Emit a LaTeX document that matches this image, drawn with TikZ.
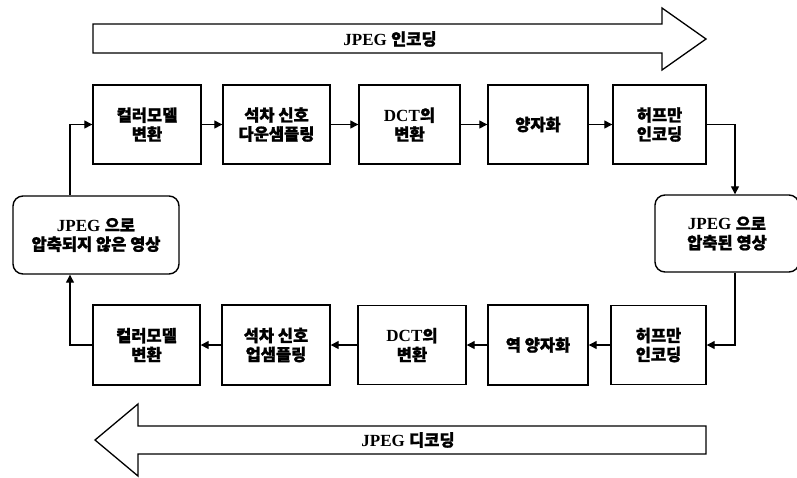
\documentclass[tikz,border=0pt]{standalone}
\usepackage{fontspec}
\setmainfont{Liberation Serif}
\newfontfamily\kr[FakeBold=1.2]{Noto Sans CJK KR}
\usetikzlibrary{arrows.meta}
\newcommand{\K}[1]{{\kr\bfseries\fontsize{16.5}{19}\selectfont #1}}
\tikzset{
  box/.style={draw, line width=1.4pt, minimum height=79pt, align=center, inner sep=0pt, font=\fontsize{17}{19}\selectfont\bfseries},
  rbox/.style={box, rounded corners=10pt, minimum height=77pt},
  conn/.style={line width=1.3pt, -{Triangle[length=8pt,width=8pt]}},
  bigarrow/.style={draw, line width=1.3pt, fill=white},
  lbl/.style={font=\fontsize{17}{19}\selectfont\bfseries}
}
\begin{document}
\begin{tikzpicture}[x=1pt,y=-1pt]
\useasboundingbox (0,0) rectangle (797,477);
% big arrows
\draw[bigarrow] (93,24) -- (662,24) -- (662,8) -- (706,39) -- (662,70) -- (662,53) -- (93,53) -- cycle;
\node[lbl] (enc) at (390,39) {JPEG \K{인코딩}};
\draw[bigarrow] (706,426) -- (138,426) -- (138,404) -- (95,440) -- (138,476) -- (138,454) -- (706,454) -- cycle;
\node[lbl] (dec) at (408,440) {JPEG \K{디코딩}};
% top row
\node[box, minimum width=108pt] (b1) at (147,124.5) {\K{컬러모델}\\\K{변환}};
\node[box, minimum width=107pt] (b2) at (276.5,124.5) {\K{석차 신호}\\\K{다운샘플링}};
\node[box, minimum width=101pt] (b3) at (409.5,124.5) {DCT\K{의}\\\K{변환}};
\node[box, minimum width=100pt] (b4) at (538,124.5) {\K{양자화}};
\node[box, minimum width=93pt] (b5) at (659.5,124.5) {\K{허프만}\\\K{인코딩}};
% bottom row
\node[box, minimum width=107pt, minimum height=80pt] (c1) at (146.5,345) {\K{컬러모델}\\\K{변환}};
\node[box, minimum width=108pt, minimum height=80pt] (c2) at (276,345) {\K{석차 신호}\\\K{업샘플링}};
\node[box, minimum width=108pt, minimum height=79pt] (c3) at (412,345) {DCT\K{의}\\\K{변환}};
\node[box, minimum width=100pt, minimum height=80pt] (c4) at (538,345) {\K{역 양자화}};
\node[box, minimum width=95pt, minimum height=79pt] (c5) at (658.5,345) {\K{허프만}\\\K{인코딩}};
% rounded boxes
\node[rbox, minimum width=166pt, minimum height=78pt] (L) at (96,235) {JPEG \K{으로}\\\K{압축되지 않은 영상}};
\node[rbox, minimum width=144pt] (R) at (727,233.5) {JPEG \K{으로}\\\K{압축된 영상}};
% connectors
\draw[conn] (b1) -- (b2);
\draw[conn] (b2) -- (b3);
\draw[conn] (b3) -- (b4);
\draw[conn] (b4) -- (b5);
\draw[conn] (b5.east) -| ([xshift=8pt]R.north);
\draw[conn] ([xshift=8pt]R.south) |- (c5.east);
\draw[conn] (c5) -- (c4);
\draw[conn] (c4) -- (c3);
\draw[conn] (c3) -- (c2);
\draw[conn] (c2) -- (c1);
\draw[conn] (c1.west) -| ([xshift=-26pt]L.south);
\draw[conn] ([xshift=-26pt]L.north) |- (b1.west);
\end{tikzpicture}
\end{document}
